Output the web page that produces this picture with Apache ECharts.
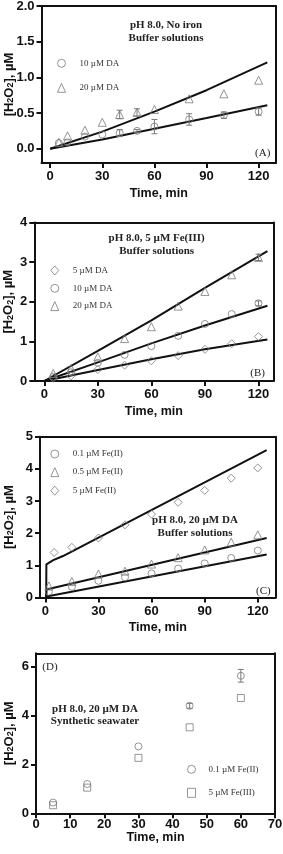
<!DOCTYPE html>
<html>
<head>
<meta charset="utf-8">
<script src="https://cdn.jsdelivr.net/npm/echarts@6/dist/echarts.min.js"></script>
<style>
html,body{margin:0;padding:0;background:#fff;}
#c{width:283px;height:854px;}
</style>
</head>
<body>
<div id="c"></div>
<script>
// ---------- Panel A: pH 8.0, No iron ----------
const aTime = [5, 10, 20, 30, 40, 50, 60, 80, 100, 120];
const a10 = [0.08, 0.09, 0.17, 0.20, 0.22, 0.25, 0.31, 0.41, 0.47, 0.52];
const a10Err = [0, 0, 0, 0, 0.05, 0.02, 0.10, 0.08, 0.045, 0.05];
const a20 = [0.09, 0.18, 0.26, 0.37, 0.48, 0.51, 0.55, 0.70, 0.77, 0.96];
const a20Err = [0, 0, 0, 0, 0.06, 0.05, 0, 0, 0, 0];
const aModelT = [0, 30, 60, 90, 125];
const aModel10 = [0, 0.13, 0.28, 0.43, 0.61];
const aModel20 = [0, 0.24, 0.52, 0.82, 1.21];
const aXTicks = [0, 30, 60, 90, 120];
const aYTicks = [0, 0.5, 1.0, 1.5, 2.0];

// ---------- Panel B: pH 8.0, 5 uM Fe(III) ----------
const bTime = [5, 15, 30, 45, 60, 75, 90, 105, 120];
const b5 = [0.07, 0.13, 0.29, 0.40, 0.51, 0.64, 0.80, 0.94, 1.12];
const b10 = [0.11, 0.22, 0.46, 0.66, 0.88, 1.14, 1.44, 1.69, 1.96];
const b10Err = [0, 0, 0, 0, 0, 0, 0, 0, 0.06];
const b20 = [0.19, 0.32, 0.61, 1.07, 1.37, 1.89, 2.26, 2.68, 3.12];
const b20Err = [0, 0, 0, 0, 0, 0, 0, 0, 0.08];
const bModelT = [0, 30, 60, 90, 125];
const bModel5 = [0, 0.28, 0.55, 0.80, 1.05];
const bModel10 = [0, 0.47, 0.95, 1.40, 1.90];
const bModel20 = [0, 0.76, 1.53, 2.35, 3.28];
const bXTicks = [0, 30, 60, 90, 120];
const bYTicks = [0, 1, 2, 3, 4];

// ---------- Panel C: pH 8.0, 20 uM DA, Fe(II) ----------
const cTimeLow = [2, 15, 30, 45, 60, 75, 90, 105, 120];
const cTimeHigh = [5, 15, 30, 45, 60, 75, 90, 105, 120];
const c01 = [0.18, 0.33, 0.52, 0.63, 0.75, 0.90, 1.06, 1.23, 1.46];
const c05 = [0.36, 0.50, 0.73, 0.82, 1.04, 1.24, 1.48, 1.72, 1.95];
const c5 = [1.40, 1.56, 1.85, 2.26, 2.59, 2.96, 3.33, 3.71, 4.03];
const cModel01T = [0, 125];
const cModel01 = [0.02, 1.34];
const cModel05T = [0.5, 0.6, 125];
const cModel05 = [0, 0.25, 1.85];
const cModel5T = [0.5, 0.6, 4.5, 10, 125];
const cModel5 = [0, 1.03, 1.16, 1.29, 4.58];
const cXTicks = [0, 30, 60, 90, 120];
const cYTicks = [0, 1, 2, 3, 4, 5];

// ---------- Panel D: synthetic seawater ----------
const dTime = [5, 15, 30, 45, 60];
const dFe2 = [0.44, 1.20, 2.74, 4.40, 5.63];
const dFe2Err = [0, 0, 0, 0.10, 0.26];
const dFe3 = [0.33, 1.05, 2.27, 3.52, 4.72];
const dXTicks = [0, 10, 20, 30, 40, 50, 60, 70];
const dYTicks = [0, 2, 4, 6];

// ---------- helpers ----------
const MK = '#7a7a7a';
const INK = '#111';
const pairs = (xs, ys) => xs.map((x, i) => [x, ys[i]]);
const errData = (xs, ys, es) => xs.map((x, i) => [x, ys[i] - es[i], ys[i] + es[i]]).filter((d, i) => es[i] > 0);
const tickFont = { color: INK, fontFamily: 'Liberation Sans', fontWeight: 'bold', fontSize: 13 };
const titleFont = { color: INK, fontFamily: 'Liberation Sans', fontWeight: 'bold', fontSize: 12.5 };

function xAxisCfg(idx, min, max, ticks, gap, margin) {
  return {
    type: 'value', gridIndex: idx, min: min, max: max, position: 'bottom',
    axisLine: { show: true, onZero: false, lineStyle: { color: INK, width: 2 } },
    axisTick: { show: true, length: 5, customValues: ticks, lineStyle: { color: INK, width: 2 } },
    axisLabel: Object.assign({ customValues: ticks, margin: margin }, tickFont),
    splitLine: { show: false },
    name: 'Time, min', nameLocation: 'middle', nameGap: gap, nameMoveOverlap: false,
    nameTextStyle: titleFont
  };
}
function yAxisCfg(idx, min, max, ticks, gap, fmt) {
  return {
    type: 'value', gridIndex: idx, min: min, max: max, position: 'left',
    axisLine: { show: true, onZero: false, lineStyle: { color: INK, width: 2 } },
    axisTick: { show: true, length: 5, customValues: ticks, lineStyle: { color: INK, width: 2 } },
    axisLabel: Object.assign({ customValues: ticks, margin: 7, formatter: fmt }, tickFont),
    splitLine: { show: false },
    name: '{a|[H}{s|2}{a|O}{s|2}{a|], µM}', nameLocation: 'middle', nameRotate: 90, nameGap: gap,
    nameMoveOverlap: false,
    nameTextStyle: {
      color: INK, fontFamily: 'Liberation Sans', fontWeight: 'bold', fontSize: 13,
      rich: {
        a: { fontFamily: 'Liberation Sans', fontWeight: 'bold', fontSize: 13, color: INK, lineHeight: 14, verticalAlign: 'bottom' },
        s: { fontFamily: 'Liberation Sans', fontWeight: 'bold', fontSize: 9, color: INK, lineHeight: 4, verticalAlign: 'bottom' }
      }
    }
  };
}
// frame axes (top / right) that close each plot box
function xFrame(idx, min, max) {
  return { type: 'value', gridIndex: idx, min: min, max: max, position: 'top',
    axisLine: { show: true, onZero: false, lineStyle: { color: INK, width: 2 } },
    axisTick: { show: false }, axisLabel: { show: false }, splitLine: { show: false } };
}
function yFrame(idx, min, max) {
  return { type: 'value', gridIndex: idx, min: min, max: max, position: 'right',
    axisLine: { show: true, onZero: false, lineStyle: { color: INK, width: 2 } },
    axisTick: { show: false }, axisLabel: { show: false }, splitLine: { show: false } };
}
function scat(name, sym, size, gi, xs, ys) {
  return {
    type: 'scatter', name: name, xAxisIndex: gi, yAxisIndex: gi,
    symbol: sym, symbolSize: size, z: 5,
    itemStyle: { color: 'rgba(255,255,255,0)', borderColor: MK, borderWidth: 1 },
    data: pairs(xs, ys)
  };
}
function model(name, gi, xs, ys) {
  return {
    type: 'line', name: name, xAxisIndex: gi, yAxisIndex: gi,
    symbol: 'none', z: 3, lineStyle: { color: INK, width: 2 },
    data: pairs(xs, ys)
  };
}
function errs(name, gi, data) {
  return {
    type: 'custom', name: name, xAxisIndex: gi, yAxisIndex: gi, z: 4,
    renderItem: function (params, api) {
      const x = api.value(0);
      const p1 = api.coord([x, api.value(1)]);
      const p2 = api.coord([x, api.value(2)]);
      const st = { stroke: MK, lineWidth: 1 };
      return {
        type: 'group', children: [
          { type: 'line', shape: { x1: p1[0], y1: p1[1], x2: p2[0], y2: p2[1] }, style: st },
          { type: 'line', shape: { x1: p1[0] - 3, y1: p1[1], x2: p1[0] + 3, y2: p1[1] }, style: st },
          { type: 'line', shape: { x1: p2[0] - 3, y1: p2[1], x2: p2[0] + 3, y2: p2[1] }, style: st }
        ]
      };
    },
    data: data
  };
}
function legendCfg(names, left, top, gap, tpad) {
  return {
    data: names, left: left, top: top, orient: 'vertical', itemGap: gap, padding: 0,
    itemWidth: 8, itemHeight: 9, selectedMode: false,
    itemStyle: { color: 'rgba(255,255,255,0)', borderColor: MK, borderWidth: 1 },
    textStyle: { fontFamily: 'Liberation Serif', fontSize: 9, lineHeight: 9, color: '#333', padding: [0, 0, 0, tpad] }
  };
}
function txt(s, x, y, bold, size) {
  return {
    type: 'text', x: x, y: y, z: 10,
    style: { text: s, fill: '#222', font: (bold ? 'bold ' : '') + size + 'px "Liberation Serif"', textAlign: 'center', textVerticalAlign: 'middle' }
  };
}

const chart = echarts.init(document.getElementById('c'), null, { renderer: 'canvas' });
const gridBase = { containLabel: false, outerBoundsMode: 'none' };

const option = {
  animation: false,
  backgroundColor: '#fff',
  grid: [
    Object.assign({ left: 41.5, top: 6, width: 234.5, height: 157 }, gridBase),
    Object.assign({ left: 34.3, top: 222.5, width: 239, height: 158.5 }, gridBase),
    Object.assign({ left: 40, top: 436.7, width: 235.5, height: 160.8 }, gridBase),
    Object.assign({ left: 36, top: 653.3, width: 239, height: 160 }, gridBase)
  ],
  xAxis: [
    xAxisCfg(0, -5, 130, aXTicks, 24, 7),
    xAxisCfg(1, -5.6, 128.3, bXTicks, 24, 7),
    xAxisCfg(2, -3, 130, cXTicks, 24, 7),
    xAxisCfg(3, 0, 70, dXTicks, 18, 5),
    xFrame(0, -5, 130), xFrame(1, -5.6, 128.3), xFrame(2, -3, 130), xFrame(3, 0, 70)
  ],
  yAxis: [
    yAxisCfg(0, -0.2, 2.0, aYTicks, 26, v => v.toFixed(1)),
    yAxisCfg(1, 0, 4, bYTicks, 19, v => String(v)),
    yAxisCfg(2, 0, 5, cYTicks, 24.5, v => String(v)),
    yAxisCfg(3, 0, 6.55, dYTicks, 20.5, v => String(v)),
    yFrame(0, -0.2, 2.0), yFrame(1, 0, 4), yFrame(2, 0, 5), yFrame(3, 0, 6.55)
  ],
  legend: [
    legendCfg(['10 µM DA', '20 µM DA'], 57, 58.8, 15, 9),
    legendCfg(['5 µM DA', '10 µM DA', '20 µM DA'], 50.3, 265.5, 8.3, 9),
    legendCfg(['0.1 µM Fe(II)', '0.5 µM Fe(II)', '5 µM Fe(II)'], 50.3, 449.5, 8.6, 9),
    legendCfg(['0.1 µM Fe(II)', '5 µM Fe(III)'], 187, 764.8, 14, 8)
  ],
  series: [
    // A
    model('A model 10', 0, aModelT, aModel10),
    model('A model 20', 0, aModelT, aModel20),
    errs('A err 10', 0, errData(aTime, a10, a10Err)),
    errs('A err 20', 0, errData(aTime, a20, a20Err)),
    scat('10 µM DA', 'circle', 7, 0, aTime, a10),
    scat('20 µM DA', 'triangle', 8, 0, aTime, a20),
    // B
    model('B model 5', 1, bModelT, bModel5),
    model('B model 10', 1, bModelT, bModel10),
    model('B model 20', 1, bModelT, bModel20),
    errs('B err 10', 1, errData(bTime, b10, b10Err)),
    errs('B err 20', 1, errData(bTime, b20, b20Err)),
    scat('5 µM DA', 'diamond', 8, 1, bTime, b5),
    scat('10 µM DA', 'circle', 7, 1, bTime, b10),
    scat('20 µM DA', 'triangle', 8, 1, bTime, b20),
    // C
    model('C model 0.1', 2, cModel01T, cModel01),
    model('C model 0.5', 2, cModel05T, cModel05),
    model('C model 5', 2, cModel5T, cModel5),
    scat('0.1 µM Fe(II)', 'circle', 7, 2, cTimeLow, c01),
    scat('0.5 µM Fe(II)', 'triangle', 8, 2, cTimeLow, c05),
    scat('5 µM Fe(II)', 'diamond', 8, 2, cTimeHigh, c5),
    // D
    errs('D err Fe2', 3, errData(dTime, dFe2, dFe2Err)),
    scat('0.1 µM Fe(II)', 'circle', 7, 3, dTime, dFe2),
    scat('5 µM Fe(III)', 'rect', 7, 3, dTime, dFe3)
  ],
  graphic: [
    txt('pH 8.0, No iron', 166, 25, true, 11),
    txt('Buffer solutions', 166, 37.7, true, 11),
    txt('(A)', 262.7, 152.7, false, 11),
    txt('pH 8.0, 5 µM Fe(III)', 156.7, 238.3, true, 11),
    txt('Buffer solutions', 156.7, 251, true, 11),
    txt('(B)', 257.7, 373.3, false, 11),
    txt('pH 8.0, 20 µM DA', 195, 520, true, 11),
    txt('Buffer solutions', 195, 532.7, true, 11),
    txt('(C)', 263.3, 591, false, 11),
    txt('(D)', 50, 667, false, 11),
    txt('pH 8.0, 20 µM DA', 95, 709, true, 11),
    txt('Synthetic seawater', 95, 721, true, 11)
  ]
};
chart.setOption(option);
</script>
</body>
</html>
